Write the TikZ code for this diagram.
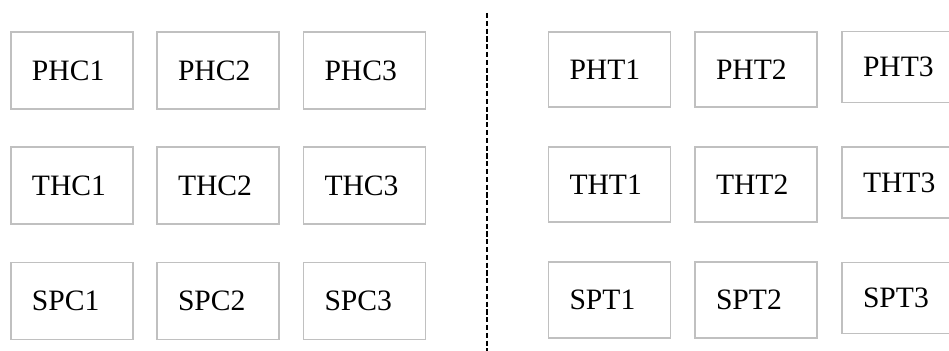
\documentclass[tikz,border=0pt]{standalone}
\usepackage{fontspec}
\setmainfont{Liberation Serif}
\definecolor{boxgray}{HTML}{C0C0C0}
\begin{document}
\begin{tikzpicture}[x=0.5pt,y=-0.5pt,
  cell/.style={draw=boxgray, line width=0.6pt, align=left,
    inner xsep=10.5pt, inner ysep=0pt, text width=40pt,
    minimum height=38.5pt, font=\fontsize{14.8}{17}\selectfont},
  narrow/.style={text width=35pt, minimum height=35.5pt},
  divider/.style={line width=0.75pt, dash pattern=on 2.6pt off 1.3pt}]
\useasboundingbox (0,0) rectangle (949,351);

% left block
\node[cell] (phc1) at (72,70.5)   {PHC1};
\node[cell] (phc2) at (218,70.5)  {PHC2};
\node[cell] (phc3) at (364.5,70.5){PHC3};
\node[cell] (thc1) at (72,185.5)   {THC1};
\node[cell] (thc2) at (218,185.5)  {THC2};
\node[cell] (thc3) at (364.5,185.5){THC3};
\node[cell] (spc1) at (72,301)   {SPC1};
\node[cell] (spc2) at (218,301)  {SPC2};
\node[cell] (spc3) at (364.5,301){SPC3};

% separator
\coordinate (divtop) at (487,13);
\coordinate (divbot) at (487,351);
\draw[divider] (divtop) -- (divbot);

% right block
\node[cell, minimum height=37.5pt] (pht1) at (609.5,69.5) {PHT1};
\node[cell, minimum height=37.5pt] (pht2) at (756,69.5)   {PHT2};
\node[cell, narrow] (pht3) at (898,67)  {PHT3};
\node[cell, minimum height=37.5pt] (tht1) at (609.5,184.5) {THT1};
\node[cell, minimum height=37.5pt] (tht2) at (756,184.5)   {THT2};
\node[cell, narrow] (tht3) at (898,182.5) {THT3};
\node[cell, minimum height=38pt] (spt1) at (609.5,300) {SPT1};
\node[cell, minimum height=38pt] (spt2) at (756,300)   {SPT2};
\node[cell, narrow] (spt3) at (898,298) {SPT3};
\end{tikzpicture}
\end{document}
